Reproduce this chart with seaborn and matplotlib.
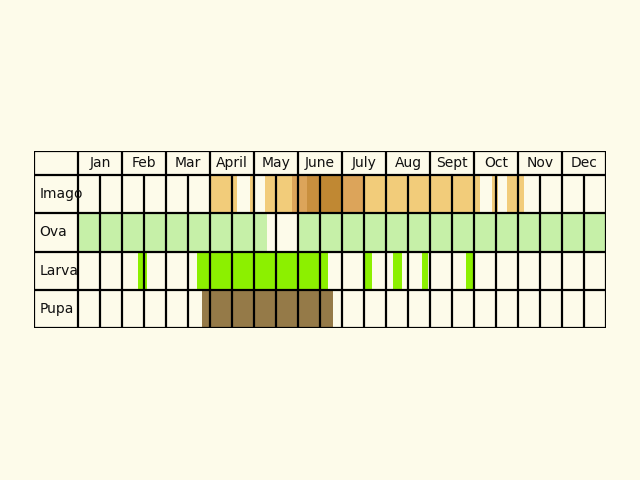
import matplotlib
matplotlib.use("Agg")
import matplotlib.pyplot as plt
import seaborn as sns

months = ["Jan","Feb","Mar","April","May","June","July","Aug","Sept","Oct","Nov","Dec"]
stages = ["Imago","Ova","Larva","Pupa"]
# intervals in month units (start, end, colour)
LO, MO, DO, XO = "#F2CC7A", "#DCA45A", "#C98F3E", "#C08833"
imago = [(3.0,3.61,LO),(3.9,4.02,LO),(4.25,4.86,LO),(4.86,5.2,MO),(5.2,5.5,DO),
         (5.5,6.0,XO),(6.0,6.52,MO),(6.52,9.14,LO),(9.4,9.55,LO),(9.75,10.14,LO)]
ova = [(0,4.3,"#C6F0A8"),(4.97,12,"#C6F0A8")]
larva = [(1.36,1.57,"#8CF000"),(2.7,5.68,"#8CF000"),(6.52,6.68,"#8CF000"),
         (7.16,7.36,"#8CF000"),(7.82,7.95,"#8CF000"),(8.82,8.98,"#8CF000")]
pupa = [(2.82,5.8,"#957A48")]
data = [imago, ova, larva, pupa]

sns.set_theme(style="white")
bg = "#FDFBEA"
fig = plt.figure(figsize=(6.4,4.8), dpi=100, facecolor=bg)
ax = fig.add_axes([34/640, (480-328)/480, 572/640, 177/480])
ax.set_facecolor(bg)
bounds = [0,24,62,101,139,177]
ax.set_xlim(-1,12); ax.set_ylim(177,0)
ax.axis("off")

for i,(stage,ivs) in enumerate(zip(stages,data)):
    y0, y1 = bounds[i+1], bounds[i+2]
    for s,e,c in ivs:
        ax.barh((y0+y1)/2, e-s, left=s, height=y1-y0, color=c, linewidth=0)
    ax.text(-0.88, (y0+y1)/2, stage, ha="left", va="center", fontsize=10, color="#111")
for m,name in enumerate(months):
    ax.text(m+0.5, 12, name, ha="center", va="center", fontsize=10, color="#111")

lw = 1.6
for yb in bounds:
    ax.plot([-1,12],[yb,yb], color="black", lw=lw, solid_capstyle="projecting")
for k in range(25):
    x = k/2
    if k % 2 == 0:
        ax.plot([x,x],[0,177], color="black", lw=lw)
    else:
        ax.plot([x,x],[24,177], color="black", lw=lw)
ax.plot([-1,-1],[0,177], color="black", lw=lw)
fig.savefig("out.png", dpi=100, facecolor=bg)
